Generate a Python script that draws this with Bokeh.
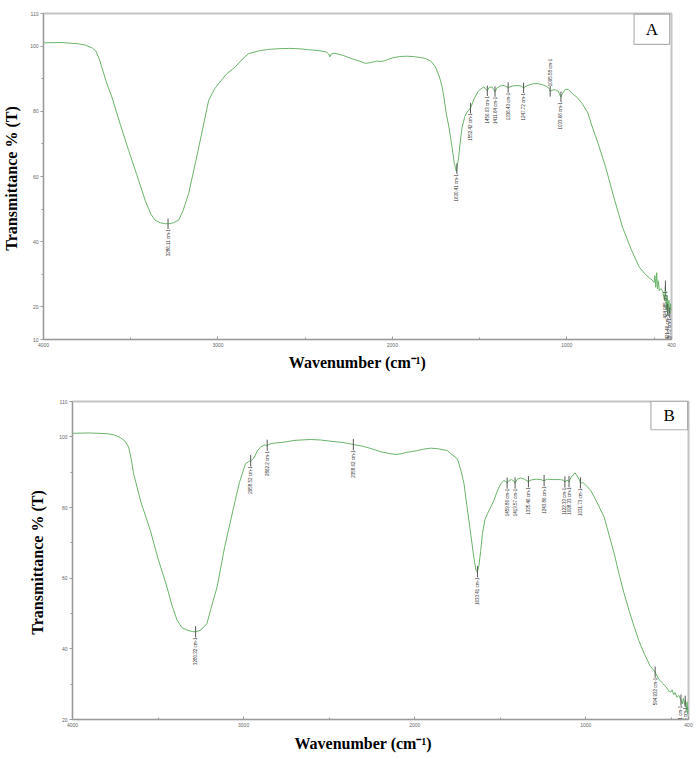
import numpy as np
from bokeh.plotting import figure
from bokeh.models import FixedTicker, BoxAnnotation, Label, Range1d, Title
from bokeh.layouts import column
from bokeh.core.properties import value
from bokeh.embed import file_html
from bokeh.resources import INLINE

# ---------------- data: panel A ----------------
wn_a = [4000, 3900, 3850, 3800, 3760, 3720, 3700, 3680, 3666, 3640, 3608, 3560, 3512, 3465, 3417,
        3385, 3360, 3330, 3300, 3283, 3255, 3225, 3200, 3168, 3130, 3090, 3053, 3020, 2996, 2950,
        2901, 2860, 2824, 2760, 2709, 2650, 2594, 2540, 2480, 2420, 2380, 2365, 2358, 2350, 2330,
        2280, 2231, 2180, 2155, 2120, 2090, 2060, 2040, 2000, 1960, 1920, 1880, 1840, 1810, 1780,
        1753, 1730, 1715, 1705, 1690, 1676, 1658, 1645, 1633, 1620, 1608, 1600, 1585, 1571, 1552,
        1530, 1510, 1495, 1476, 1465, 1456, 1445, 1430, 1418, 1411, 1400, 1380, 1360, 1336, 1310,
        1280, 1260, 1248, 1230, 1200, 1170, 1140, 1115, 1100, 1095, 1085, 1065, 1050, 1040, 1033,
        1025, 1007, 990, 969, 940, 912, 880, 854, 820, 778, 730, 681, 630, 586, 550,
        525, 510, 500, 495, 490, 485, 480, 475, 470, 460, 450, 440, 435, 430, 425,
        420, 415, 410, 405, 400]
t_a = [101.0, 101.1, 100.9, 100.7, 100.3, 99.4, 98.5, 96.0, 93.6, 89.0, 84.4, 76.0, 68.0, 60.5, 52.7,
       48.5, 46.6, 45.8, 45.5, 45.5, 45.8, 46.6, 49.5, 54.8, 64.0, 74.0, 83.4, 86.8, 88.5, 91.5,
       93.6, 96.0, 97.7, 98.6, 99.0, 99.2, 99.3, 99.2, 98.9, 98.6, 98.2, 97.6, 96.7, 97.6, 97.8,
       97.1, 96.1, 95.2, 94.7, 95.0, 95.4, 95.3, 95.6, 96.4, 96.8, 96.9, 96.8, 96.5, 96.2, 95.4,
       93.6, 90.5, 87.5, 84.4, 79.0, 75.2, 69.0, 64.0, 61.5, 66.0, 72.0, 75.2, 78.4, 79.8, 81.0,
       84.0, 86.0, 86.8, 87.5, 86.8, 86.3, 87.3, 87.5, 86.6, 86.0, 87.2, 87.8, 87.9, 87.3, 87.8,
       87.9, 87.7, 87.2, 87.8, 88.4, 88.5, 88.2, 87.6, 86.9, 86.0, 86.5, 86.6, 86.2, 85.0, 84.4,
       85.5, 86.8, 86.6, 85.5, 84.2, 82.4, 79.5, 75.2, 70.0, 63.0, 53.5, 44.5, 37.5, 32.3, 30.0,
       28.8, 28.2, 27.5, 29.6, 26.0, 30.5, 25.5, 28.0, 25.0, 25.6, 24.8, 22.0, 26.5, 19.0, 23.5,
       17.5, 22.0, 18.0, 21.0, 19.0]
peaks_a = [3286.11, 1630.41, 1552.42, 1456.03, 1411.64, 1336.43, 1247.72, 1095.58, 1033.66,
           434.985, 421.46, 409.72]
peak_text_a = ["3286.11 cm-1", "1630.41 cm-1", "1552.42 cm-1", "1456.03 cm-1", "1411.64 cm-1",
               "1336.43 cm-1", "1247.72 cm-1", "1095.58 cm-1", "1033.66 cm-1",
               "434.985 cm-1", "421.46 cm-1", "409.72 cm-1"]
peak_side_a = ["below", "below", "below", "below", "below", "below", "below", "above", "below",
               "below", "below", "below"]

# ---------------- data: panel B ----------------
wn_b = [4000, 3900, 3850, 3800, 3760, 3720, 3692, 3672, 3658, 3643, 3600, 3545, 3500, 3448, 3420,
        3389, 3360, 3331, 3300, 3282, 3250, 3214, 3190, 3155, 3110, 3058, 3025, 2989, 2970, 2956,
        2940, 2920, 2902, 2880, 2862, 2840, 2765, 2700, 2609, 2550, 2499, 2420, 2375, 2358, 2300,
        2250, 2200, 2141, 2110, 2080, 2050, 2020, 1985, 1950, 1907, 1860, 1809, 1790, 1751, 1730,
        1712, 1695, 1673, 1655, 1642, 1634, 1625, 1615, 1604, 1590, 1575, 1555, 1537, 1515, 1497,
        1480, 1468, 1460, 1450, 1435, 1420, 1414, 1400, 1380, 1360, 1345, 1335, 1320, 1290, 1265,
        1244, 1225, 1190, 1150, 1130, 1122, 1110, 1098, 1085, 1063, 1045, 1035, 1030, 1020, 1000,
        971, 930, 893, 860, 834, 805, 776, 745, 717, 690, 659, 625, 596, 575, 551,
        530, 515, 503, 495, 487, 478, 468, 456, 444, 436, 430, 423, 418, 412, 408,
        404, 400]
t_b = [101.0, 101.1, 101.0, 100.9, 100.6, 99.8, 98.7, 97.1, 94.0, 89.6, 81.5, 73.5, 65.5, 57.5, 52.5,
       48.1, 46.0, 45.3, 44.9, 44.8, 45.3, 47.2, 51.5, 57.5, 69.0, 80.1, 87.0, 92.4, 93.0, 93.3,
       94.0, 96.0, 97.1, 97.7, 97.6, 98.1, 98.5, 99.0, 99.25, 99.1, 98.8, 98.4, 98.0, 97.8, 97.3,
       96.6, 95.8, 95.2, 95.0, 95.2, 95.6, 95.8, 96.1, 96.5, 96.8, 96.6, 96.1, 95.3, 93.8, 90.5,
       86.7, 80.5, 72.6, 66.0, 62.2, 61.7, 63.5, 67.5, 72.6, 76.5, 78.2, 80.2, 82.0, 85.0, 86.7,
       87.6, 87.4, 86.9, 87.6, 87.9, 87.5, 86.9, 88.0, 88.4, 88.0, 87.6, 87.3, 87.8, 88.0, 87.9,
       87.6, 88.0, 87.9, 87.9, 87.7, 87.2, 87.8, 87.3, 88.6, 89.8, 88.5, 87.5, 86.7, 87.2, 86.3,
       84.8, 81.0, 77.3, 71.5, 66.9, 61.0, 55.6, 50.5, 46.2, 42.3, 38.7, 35.2, 33.5, 31.5, 30.2,
       29.2, 28.0, 27.8, 28.4, 27.0, 27.6, 26.3, 26.8, 25.5, 24.4, 26.0, 24.2, 25.5, 22.5, 25.0,
       21.5, 23.0]
peaks_b = [3280.32, 2958.52, 2862.2, 2358.62, 1633.41, 1459.86, 1413.57, 1335.46, 1243.86,
           1122.33, 1098.33, 1031.73, 594.932, 443.941, 419.35]
peak_text_b = ["3280.32 cm-1", "2958.52 cm-1", "2862.2 cm-1", "2358.62 cm-1", "1633.41 cm-1",
               "1459.86 cm-1", "1413.57 cm-1", "1335.46 cm-1", "1243.86 cm-1", "1122.33 cm-1",
               "1098.33 cm-1", "1031.73 cm-1", "594.932 cm-1", "443.941 cm-1", "419.35 cm-1"]
peak_side_b = ["below"] * len(peaks_b)

x_major = [4000, 3000, 2000, 1000, 400]
x_minor = [3500, 2500, 1500, 500]
y_major_a = [10, 20, 40, 60, 80, 100, 110]
y_major_b = [20, 40, 60, 80, 100, 110]
y_minor = [30, 50, 70, 90]

X_TITLE = "Wavenumber (cm\u207b\u00b9)"
Y_TITLE = "Transmittance  % (T)"

# ---------------- styling ----------------
LINE = "#6ab46a"
SERIF = "Liberation Serif"
SANS = "Liberation Sans"


def panel(wn, t, peaks, texts, sides, ymin, y_major, tag, box, geom, xtitle_offset=None):
    w, h, bl, br, bt, bb, ylab_stand, xlab_stand = geom
    p = figure(width=w, height=h, output_backend="svg", toolbar_location=None,
               x_range=Range1d(4000, 400), y_range=Range1d(ymin, 110),
               min_border_left=bl, min_border_right=br, min_border_top=bt, min_border_bottom=bb)
    p.frame_align = False
    p.grid.visible = False
    p.outline_line_color = "#c4c4c4"
    p.outline_line_width = 2
    p.background_fill_color = "white"
    p.border_fill_color = "white"

    p.line(wn, t, line_color=LINE, line_width=1)

    wn_arr = np.array(wn, dtype=float)
    t_arr = np.array(t, dtype=float)
    pk = np.array(peaks, dtype=float)
    tv = np.interp(pk, wn_arr[::-1], t_arr[::-1])
    half = 1.6
    p.segment(x0=pk, y0=tv + half, x1=pk, y1=tv - half, line_color="#555555", line_width=1)
    below = [i for i, s in enumerate(sides) if s == "below"]
    above = [i for i, s in enumerate(sides) if s == "above"]
    if below:
        p.text(x=pk[below], y=tv[below] - half, text=[texts[i] for i in below], angle=np.pi / 2,
               text_align="right", text_baseline="middle", text_font=value(SANS),
               text_font_size="4.5px", text_color="#333333")
    if above:
        p.text(x=pk[above], y=tv[above] + half, text=[texts[i] for i in above], angle=np.pi / 2,
               text_align="left", text_baseline="middle", text_font=value(SANS),
               text_font_size="4.5px", text_color="#333333")

    # panel tag box
    bx0, bx1, by0, by1 = box
    p.add_layout(BoxAnnotation(left=bx0, right=bx1, bottom=by0, top=by1, fill_color="white",
                               fill_alpha=1.0, line_color="black", line_width=1.2))
    p.add_layout(Label(x=(bx0 + bx1) / 2, y=(by0 + by1) / 2, text=tag, text_align="center",
                       text_baseline="middle", text_font=SERIF, text_font_size="17px",
                       text_color="black"))

    p.xaxis.ticker = FixedTicker(ticks=x_major, minor_ticks=x_minor)
    p.yaxis.ticker = FixedTicker(ticks=y_major, minor_ticks=y_minor)
    for ax in (p.xaxis[0], p.yaxis[0]):
        ax.axis_line_color = "#9a9a9a"
        ax.major_tick_line_color = "#9a9a9a"
        ax.minor_tick_line_color = "#9a9a9a"
        ax.major_label_text_font = SANS
        ax.major_label_text_font_size = "5px"
        ax.major_label_text_color = "#666666"
        ax.axis_label_text_font = SERIF
        ax.axis_label_text_font_style = "bold"
        ax.axis_label_text_font_size = "16px"
        ax.axis_label_text_color = "black"
    p.xaxis.major_tick_in = 3
    p.xaxis.major_tick_out = 0
    p.xaxis.minor_tick_in = 2
    p.xaxis.minor_tick_out = 0
    p.xaxis.major_label_standoff = 3
    p.yaxis.major_tick_in = 0
    p.yaxis.major_tick_out = 3
    p.yaxis.minor_tick_in = 0
    p.yaxis.minor_tick_out = 2
    p.yaxis.major_label_standoff = 2
    p.yaxis.axis_label = Y_TITLE
    p.yaxis.axis_label_standoff = ylab_stand
    if xtitle_offset is None:
        p.xaxis.axis_label = X_TITLE
        p.xaxis.axis_label_standoff = xlab_stand
    else:
        p.add_layout(Title(text=X_TITLE, align="left", offset=xtitle_offset,
                           standoff=xlab_stand, text_font=SERIF, text_font_style="bold",
                           text_font_size="16px", text_color="black"), "below")
    return p


pA = panel(wn_a, t_a, peaks_a, peak_text_a, peak_side_a, 10, y_major_a, "A",
           (614.6, 411.0, 100.5, 109.8), (697, 393, 42, 26, 13, 54, 7, 4))
pB = panel(wn_b, t_b, peaks_b, peak_text_b, peak_side_b, 20, y_major_b, "B",
           (619.6, 405.0, 102.0, 110.0), (697, 364, 72, 9, 8, 38, 10, 6),
           xtitle_offset=222)

layout = column(pA, pB, spacing=0)
open("out.html", "w").write(file_html(layout, INLINE))
